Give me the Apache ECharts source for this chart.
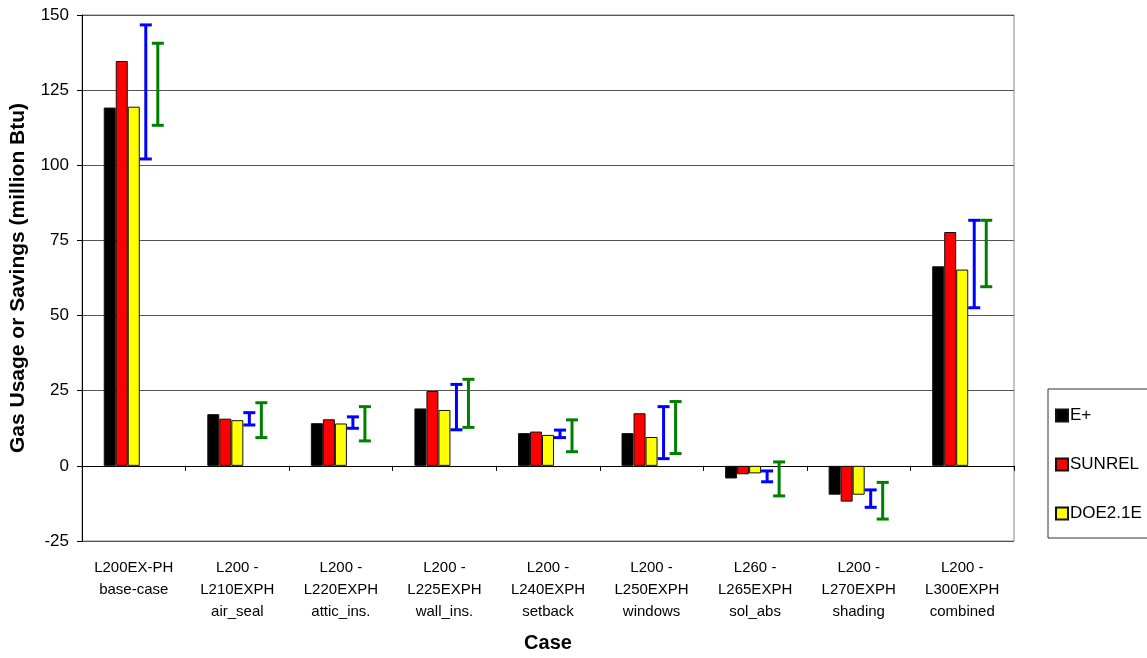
<!DOCTYPE html>
<html>
<head>
<meta charset="utf-8">
<script src="https://cdn.jsdelivr.net/npm/echarts@6/dist/echarts.min.js"></script>
<style>
  html, body { margin: 0; padding: 0; background: #fff; }
  #chart { width: 1147px; height: 658px; }
</style>
</head>
<body>
<div id="chart"></div>
<script>
// case labels
const cases = [
  'L200EX-PH\nbase-case',
  'L200 -\nL210EXPH\nair_seal',
  'L200 -\nL220EXPH\nattic_ins.',
  'L200 -\nL225EXPH\nwall_ins.',
  'L200 -\nL240EXPH\nsetback',
  'L200 -\nL250EXPH\nwindows',
  'L260 -\nL265EXPH\nsol_abs',
  'L200 -\nL270EXPH\nshading',
  'L200 -\nL300EXPH\ncombined'
]

const ePlus = [119.2, 17.2, 14.2, 19.1, 10.9, 10.9, -4.2, -9.6, 66.4]
const sunrel = [134.7, 15.7, 15.5, 24.9, 11.4, 17.5, -2.8, -11.9, 77.8]
const doe21e = [119.5, 15.2, 14.1, 18.6, 10.3, 9.6, -2.5, -9.6, 65.3]

// ranges drawn as error bars [min, max]
const blueRange = [[102.1, 146.7], [13.6, 17.7], [12.5, 16.3], [12.0, 27.1], [9.4, 11.9],
  [2.4, 19.7], [-5.3, -1.7], [-13.8, -8.0], [52.6, 81.7]]
const greenRange = [[113.3, 140.6], [9.4, 21.0], [8.3, 19.7], [12.8, 28.8], [4.7, 15.3],
  [4.1, 21.4], [-10.0, 1.3], [-17.7, -5.5], [59.6, 81.7]]

const yTicks = { min: -25, max: 150, interval: 25 }

const chart = echarts.init(document.getElementById('chart'))

const groupShare = 0.58 // 1 - barCategoryGap

function errorBar (color, slotOffset) {
  return function (params, api) {
    const idx = api.value(0)
    const lo = api.coord([idx, api.value(1)])
    const hi = api.coord([idx, api.value(2)])
    const band = api.size([1, 0])[0]
    const slot = band * groupShare / 5
    const x = lo[0] + slotOffset * slot
    const half = slot / 2
    const style = { stroke: color, lineWidth: 3 }
    return {
      type: 'group',
      children: [
        { type: 'line', shape: { x1: x, y1: lo[1], x2: x, y2: hi[1] }, style },
        { type: 'line', shape: { x1: x - half, y1: lo[1], x2: x + half, y2: lo[1] }, style },
        { type: 'line', shape: { x1: x - half, y1: hi[1], x2: x + half, y2: hi[1] }, style }
      ]
    }
  }
}

const barBorder = { borderColor: '#111', borderWidth: 1 }

const option = {
  animation: false,
  textStyle: { fontFamily: 'Liberation Sans, Arial, sans-serif' },
  grid: { left: 82, right: 133, top: 15, bottom: 116, show: true, borderColor: '#888', borderWidth: 1 },
  legend: {
    data: ['E+', 'SUNREL', 'DOE2.1E'],
    orient: 'vertical',
    left: 1048,
    top: 389,
    icon: 'rect',
    itemWidth: 12,
    itemHeight: 12,
    itemGap: 32,
    padding: [18, 40, 16, 7],
    borderColor: '#333',
    borderWidth: 1,
    textStyle: { fontSize: 17, color: '#000', padding: [0, 0, 0, -3] }
  },
  xAxis: [
    {
      type: 'category',
      data: cases,
      position: 'bottom',
      axisLine: { onZero: false, show: false },
      axisTick: { show: false },
      axisLabel: { fontSize: 15, color: '#000', lineHeight: 22, margin: 16, interval: 0 },
      name: 'Case',
      nameLocation: 'middle',
      nameGap: 92,
      nameTextStyle: { fontSize: 20, fontWeight: 'bold', color: '#000' }
    },
    {
      type: 'category',
      data: cases,
      position: 'top',
      axisLine: { onZero: true, lineStyle: { color: '#000', width: 1 } },
      axisTick: { show: true, inside: true, length: 5, lineStyle: { color: '#000' } },
      axisLabel: { show: false }
    }
  ],
  yAxis: {
    type: 'value',
    min: yTicks.min,
    max: yTicks.max,
    interval: yTicks.interval,
    axisLine: { show: true, lineStyle: { color: '#000' } },
    axisTick: { show: true, length: 5, lineStyle: { color: '#000' } },
    axisLabel: { fontSize: 17, color: '#000', margin: 13 },
    splitLine: { lineStyle: { color: '#555', width: 1 } },
    name: 'Gas Usage or Savings (million Btu)',
    nameLocation: 'middle',
    nameGap: 53,
    nameTextStyle: { fontSize: 21, fontWeight: 'bold', color: '#000' }
  },
  series: [
    { name: 'E+', type: 'bar', data: ePlus, barGap: '0%', barCategoryGap: '42%', itemStyle: { color: '#000', ...barBorder } },
    { name: 'SUNREL', type: 'bar', data: sunrel, itemStyle: { color: '#ff0000', ...barBorder } },
    { name: 'DOE2.1E', type: 'bar', data: doe21e, itemStyle: { color: '#ffff00', ...barBorder } },
    // empty slots so the bar group leaves room for the ranges
    { name: 'slotBlue', type: 'bar', data: [] },
    { name: 'slotGreen', type: 'bar', data: [] },
    {
      name: 'blue range',
      type: 'custom',
      renderItem: errorBar('#0000ff', 1),
      encode: { x: 0, y: [1, 2] },
      data: blueRange.map((r, i) => [i, r[0], r[1]]),
      z: 3
    },
    {
      name: 'green range',
      type: 'custom',
      renderItem: errorBar('#008000', 2),
      encode: { x: 0, y: [1, 2] },
      data: greenRange.map((r, i) => [i, r[0], r[1]]),
      z: 3
    }
  ]
}

chart.setOption(option)
</script>
</body>
</html>
